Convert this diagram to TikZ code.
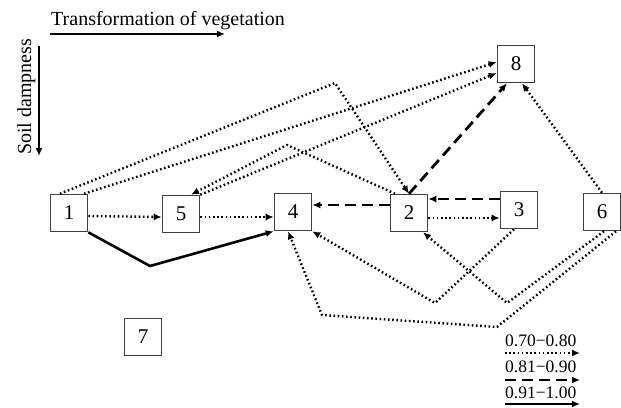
\documentclass[tikz,border=0pt]{standalone}
\usepackage{fontspec}
\setmainfont{Liberation Serif}
\usetikzlibrary{arrows.meta, calc}

\begin{document}
\begin{tikzpicture}[
    x=1pt, y=-1pt,
    state/.style={
        rectangle, draw=black!75, line width=1.6pt, fill=white,
        minimum width=37pt, minimum height=37pt, inner sep=0pt,
        font=\fontsize{21}{24}\selectfont
    },
    headtip/.style={-{Latex[length=8pt, width=7pt]}},
    dotarrow/.style={headtip, line width=2.4pt, dash pattern=on 1.6pt off 2.6pt},
    dasharrow/.style={headtip, line width=2.8pt, dash pattern=on 11pt off 6pt},
    solidarrow/.style={headtip, line width=2.6pt},
    lbl/.style={font=\fontsize{20}{24}\selectfont, inner sep=0pt},
    legend/.style={font=\fontsize{17.5}{20}\selectfont, inner sep=0pt, anchor=base west},
]
\useasboundingbox (0,0) rectangle (621,407);

% Axes
\node[lbl, anchor=base west] (title) at (51,25) {Transformation of vegetation};
\coordinate (hstart) at (50,34);
\coordinate (hend) at (225,34);
\draw[headtip, line width=1.6pt] (hstart) -- (hend);

\node[lbl, rotate=90, anchor=base west] (side) at (31,155) {Soil dampness};
\coordinate (vstart) at (39,46);
\coordinate (vend) at (39,156);
\draw[headtip, line width=1.6pt] (vstart) -- (vend);

% Nodes
\node[state] (n1) at (69,213) {1};
\node[state] (n5) at (181,214) {5};
\node[state] (n4) at (293,212) {4};
\node[state] (n2) at (409,213) {2};
\node[state] (n3) at (519,210) {3};
\node[state] (n6) at (602,212) {6};
\node[state] (n8) at (516,64) {8};
\node[state] (n7) at (143,337) {7};

% Bends
\coordinate (b14) at (150,266);
\coordinate (b12) at (335,83);
\coordinate (b25) at (287,145);
\coordinate (b34) at (435,303);
\coordinate (b62) at (507,303);
\coordinate (b64a) at (497,327);
\coordinate (b64b) at (322,315);

% Row of boxes
\draw[dotarrow] ([yshift=-3pt]n1.east) -- ([yshift=-3pt]n5.west);
\draw[dotarrow] ([yshift=-3pt]n5.east) -- ([yshift=-5pt]n4.west);
\draw[solidarrow] (n1.south east) -- (b14) -- (n4.south west);
\draw[dasharrow] ([yshift=8pt]n2.west) -- ([yshift=7pt]n4.east);
\draw[dasharrow] ([yshift=11pt]n3.west) -- ([yshift=14pt]n2.east);
\draw[dotarrow] ([yshift=-5pt]n2.east) -- ([yshift=-8pt]n3.west);

% Upper links
\draw[dotarrow] ([xshift=-9pt]n1.north) -- (b12) -- (n2.north);
\draw[dotarrow] ([xshift=15pt]n1.north) -- ([yshift=2pt]n8.west);
\draw[dotarrow] (n5.north east) -- ([yshift=-9pt]n8.west);
\draw[dotarrow] ([xshift=-14pt]n2.north) -- (b25) -- ([xshift=10pt]n5.north);
\draw[dasharrow] (n2.north) -- ([xshift=-9pt]n8.south);
\draw[dotarrow] (n6.north) -- ([xshift=6pt]n8.south);

% Lower links
\draw[dotarrow] ([xshift=-5pt]n3.south) -- (b34) -- (n4.south east);
\draw[dotarrow] ([xshift=2pt]n6.south) -- (b62) -- ([xshift=14pt]n2.south);
\draw[dotarrow] ([xshift=14pt]n6.south) -- (b64a) -- (b64b) -- ([xshift=-5pt]n4.south);

% Legend
\node[legend] (l1) at (505,346) {0.70−0.80};
\node[legend] (l2) at (505,372) {0.81−0.90};
\node[legend] (l3) at (505,398) {0.91−1.00};
\coordinate (k1a) at (505,353);
\coordinate (k1b) at (580,353);
\coordinate (k2a) at (505,380);
\coordinate (k2b) at (580,380);
\coordinate (k3a) at (505,404);
\coordinate (k3b) at (580,404);
\draw[dotarrow] (k1a) -- (k1b);
\draw[dasharrow] (k2a) -- (k2b);
\draw[solidarrow] (k3a) -- (k3b);

\end{tikzpicture}
\end{document}
